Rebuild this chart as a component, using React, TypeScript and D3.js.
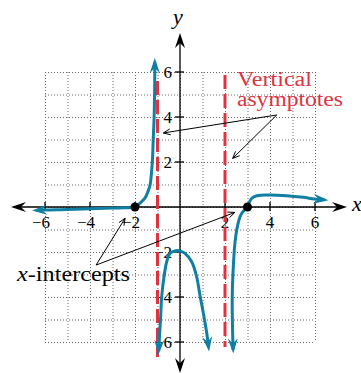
import React from "react";
import * as d3 from "d3";

type P = [number, number];

const tickValues = [-6, -4, -2, 2, 4, 6];
const gridValues = [-6, -5, -4, -3, -2, -1, 0, 1, 2, 3, 4, 5, 6];

const leftBranch: P[] = [
  [-6.4, -0.15], [-6, -0.13], [-5, -0.11], [-4, -0.08], [-3, -0.05], [-2.5, -0.03],
  [-2, 0], [-1.8, 0.15], [-1.56, 0.39], [-1.42, 0.7], [-1.33, 0.98], [-1.23, 2.0],
  [-1.19, 3.0], [-1.15, 4.0], [-1.13, 5.0], [-1.12, 6.0], [-1.12, 6.45],
];
const middleBranch: P[] = [
  [-0.95, -6.4], [-0.92, -5.91], [-0.86, -4.87], [-0.81, -3.94], [-0.71, -3.1],
  [-0.59, -2.43], [-0.44, -2.06], [-0.2, -1.94], [0.05, -1.97], [0.22, -2.06],
  [0.52, -2.43], [0.74, -3.1], [0.89, -3.94], [1.04, -4.73], [1.19, -5.61], [1.27, -6.25],
];
const rightBranch: P[] = [
  [2.36, -6.33], [2.34, -5.61], [2.32, -4.13], [2.37, -2.65], [2.44, -1.62],
  [2.55, -0.87], [2.7, -0.36], [2.96, 0.0], [3.04, 0.13], [3.19, 0.39], [3.41, 0.5],
  [3.97, 0.53], [4.74, 0.5], [5.48, 0.43], [5.97, 0.36], [6.42, 0.32],
];
const xIntercepts: P[] = [[-2, 0], [3, 0]];
const asymptotes = [
  { x: -1, y0: 5.6, y1: -6.67 },
  { x: 2, y0: 5.87, y1: -6.22 },
];
const asymLabel = ["Vertical", "asymptotes"];
const interceptLabel = "-intercepts";
const annotations: { from: P; to: P }[] = [
  { from: [4.3, 4.09], to: [-0.74, 3.29] },
  { from: [4.3, 4.09], to: [2.34, 2.16] },
  { from: [-3.73, -2.58], to: [-2.44, -0.5] },
  { from: [-3.73, -2.58], to: [2.44, -0.24] },
];

const W = 361;
const H = 373;
const BLUE = "#0f7fa3";
const RED = "#de3341";
const FONT = "'Liberation Serif', 'DejaVu Serif', serif";

const x = d3.scaleLinear().domain([-6, 6]).range([45, 315]);
const y = d3.scaleLinear().domain([-6, 6]).range([342, 72]);

const line = d3
  .line<P>()
  .x((d) => x(d[0]))
  .y((d) => y(d[1]))
  .curve(d3.curveCatmullRom.alpha(0.5));

function arrowHead(px: number, py: number, dx: number, dy: number, len: number, half: number, notch: number, ext: number) {
  const n = Math.hypot(dx, dy) || 1;
  const ux = dx / n, uy = dy / n;
  const tx = px + ux * ext, ty = py + uy * ext;
  const bx = tx - ux * len, by = ty - uy * len;
  const nx = tx - ux * notch, ny = ty - uy * notch;
  const vx = -uy, vy = ux;
  return `M${tx},${ty}L${bx + vx * half},${by + vy * half}L${nx},${ny}L${bx - vx * half},${by - vy * half}Z`;
}

function endArrows(pts: P[]) {
  const a = pts[0], b = pts[1];
  const c = pts[pts.length - 1], d = pts[pts.length - 2];
  return [
    arrowHead(x(a[0]), y(a[1]), x(a[0]) - x(b[0]), y(a[1]) - y(b[1]), 15, 5, 10, 4),
    arrowHead(x(c[0]), y(c[1]), x(c[0]) - x(d[0]), y(c[1]) - y(d[1]), 15, 5, 10, 4),
  ];
}

export default function App() {
  const x0 = x(0), y0 = y(0);
  const branches = [leftBranch, middleBranch, rightBranch];
  return (
    <svg width={W} height={H} style={{ position: "absolute", left: 0, top: 0 }}>
      <rect width={W} height={H} fill="#fff" />
      {/* grid */}
      <g stroke="#666" strokeWidth={1} strokeDasharray="1 2">
        {gridValues.map((v) => (
          <line key={"gx" + v} x1={x(v) + 0.5} x2={x(v) + 0.5} y1={y(6)} y2={y(-6)} />
        ))}
        {gridValues.map((v) => (
          <line key={"gy" + v} x1={x(-6)} x2={x(6)} y1={y(v) + 0.5} y2={y(v) + 0.5} />
        ))}
      </g>
      {/* axes */}
      <g stroke="#000" strokeWidth={1.3}>
        <line x1={16} x2={342} y1={y0} y2={y0} />
        <line x1={x0} x2={x0} y1={38} y2={368} />
        {tickValues.map((v) => (
          <line key={"tx" + v} x1={x(v)} x2={x(v)} y1={y0 - 5} y2={y0 + 4} />
        ))}
        {tickValues.map((v) => (
          <line key={"ty" + v} x1={x0 - 5} x2={x0 + 4} y1={y(v)} y2={y(v)} />
        ))}
      </g>
      <g fill="#000">
        <path d={arrowHead(16, y0, -1, 0, 15, 5, 10, 5)} />
        <path d={arrowHead(342, y0, 1, 0, 15, 5, 10, 5)} />
        <path d={arrowHead(x0, 38, 0, -1, 15, 5, 10, 5)} />
        <path d={arrowHead(x0, 368, 0, 1, 15, 5, 10, 5)} />
      </g>
      {/* tick labels */}
      <g fontFamily={FONT} fontSize={17} fill="#000">
        {tickValues.map((v) => (
          <text key={"lx" + v} x={v < 0 ? x(v) + 5 : x(v)} y={y0 + 21} textAnchor={v < 0 ? "end" : "middle"}>
            {v < 0 ? "\u2212" + Math.abs(v) : String(v)}
          </text>
        ))}
        {tickValues.map((v) => (
          <text key={"ly" + v} x={x0 - 8} y={y(v) + 6} textAnchor="end">
            {v < 0 ? "\u2212" + Math.abs(v) : String(v)}
          </text>
        ))}
      </g>
      <text x={173} y={24} fontFamily={FONT} fontStyle="italic" fontSize={22}>y</text>
      <text x={352} y={211} fontFamily={FONT} fontStyle="italic" fontSize={22}>x</text>
      {/* asymptotes */}
      {asymptotes.map((a) => (
        <line key={"as" + a.x} x1={x(a.x)} x2={x(a.x)} y1={y(a.y0)} y2={y(a.y1)} stroke={RED} strokeWidth={3} strokeDasharray="14 5" />
      ))}
      {/* curves */}
      {branches.map((b, i) => (
        <g key={"br" + i}>
          <path d={line(b) || ""} fill="none" stroke={BLUE} strokeWidth={3} />
          {endArrows(b).map((d, j) => (
            <path key={j} d={d} fill={BLUE} />
          ))}
        </g>
      ))}
      {xIntercepts.map((p, i) => (
        <circle key={"xi" + i} cx={x(p[0])} cy={y(p[1])} r={4.5} fill="#000" />
      ))}
      {/* annotations */}
      <g stroke="#000" strokeWidth={1} fill="none">
        {annotations.map((a, i) => {
          const fx = x(a.from[0]), fy = y(a.from[1]), tx = x(a.to[0]), ty = y(a.to[1]);
          const n = Math.hypot(tx - fx, ty - fy);
          const ux = (tx - fx) / n, uy = (ty - fy) / n;
          const vx = -uy, vy = ux;
          const L = 7, Hh = 3;
          const d = `M${tx - ux * L + vx * Hh},${ty - uy * L + vy * Hh}L${tx},${ty}L${tx - ux * L - vx * Hh},${ty - uy * L - vy * Hh}`;
          return (
            <g key={"an" + i}>
              <line x1={fx} y1={fy} x2={tx} y2={ty} />
              <path d={d} />
            </g>
          );
        })}
      </g>
      <g fontFamily={FONT} fontSize={20} fill={RED}>
        <text x={237} y={86} textLength={75} lengthAdjust="spacingAndGlyphs">{asymLabel[0]}</text>
        <text x={237} y={106} textLength={106} lengthAdjust="spacingAndGlyphs">{asymLabel[1]}</text>
      </g>
      <text x={17} y={281} fontFamily={FONT} fontSize={22} fill="#000" textLength={113} lengthAdjust="spacingAndGlyphs">
        <tspan fontStyle="italic">x</tspan>
        {interceptLabel}
      </text>
    </svg>
  );
}
